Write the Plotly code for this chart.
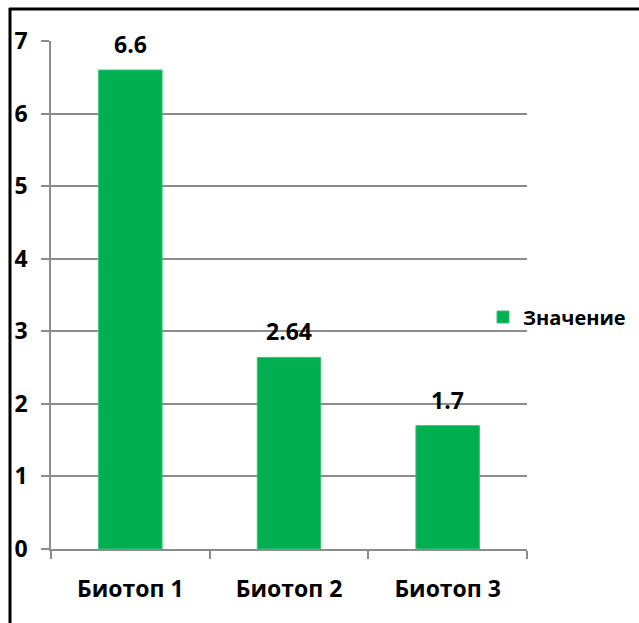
import plotly.graph_objects as go

categories = ["Биотоп 1", "Биотоп 2", "Биотоп 3"]
values = [6.6, 2.64, 1.7]
value_labels = ["6.6", "2.64", "1.7"]
series_name = "Значение"
y_ticks = [0, 1, 2, 3, 4, 5, 6, 7]

W, H = 639, 623
L, R, T, B = 51, 112, 41, 74
pw, ph = W - L - R, H - T - B

FONT = "Open Sans"
GREEN = "#00B050"
GRID = "#8C8C8C"
FS = 23

fig = go.Figure()
fig.add_trace(go.Bar(
    x=categories, y=values, name=series_name,
    marker=dict(color=GREEN, line=dict(color="#3CC07A", width=1)),
    width=0.4, showlegend=True,
))

for c, v, t in zip(categories, values, value_labels):
    fig.add_annotation(x=c, y=v, text=f"<b>{t}</b>", showarrow=False,
                       yanchor="middle", yshift=26,
                       font=dict(family=FONT, size=FS, color="black"))

def px_x(p):
    return (p - L) / pw

def px_y(p):
    return (H - B - p) / ph

# frame lines on the top and left edges
fig.add_shape(type="line", xref="paper", yref="paper",
              x0=px_x(9), x1=px_x(W + 2), y0=px_y(9), y1=px_y(9),
              line=dict(color="black", width=3))
fig.add_shape(type="line", xref="paper", yref="paper",
              x0=px_x(10), x1=px_x(10), y0=px_y(8), y1=px_y(H + 2),
              line=dict(color="black", width=3))

fig.update_layout(
    width=W, height=H,
    margin=dict(l=L, r=R, t=T, b=B, autoexpand=False),
    paper_bgcolor="white", plot_bgcolor="white",
    font=dict(family=FONT, size=FS, color="black"),
    bargap=0.6,
    legend=dict(x=px_x(483), y=px_y(317), xanchor="left", yanchor="middle",
                font=dict(family=FONT, size=20, color="black", weight="bold"),
                itemwidth=30, bgcolor="rgba(0,0,0,0)"),
    xaxis=dict(
        type="category", showgrid=False, showline=True, linecolor=GRID,
        linewidth=1.5, ticks="outside", tickson="boundaries", ticklen=8,
        tickcolor=GRID, tickwidth=1.5,
        tickfont=dict(family=FONT, size=FS, color="black", weight="bold"),
        ticklabelstandoff=19,
    ),
    yaxis=dict(
        range=[0, 7], tickvals=y_ticks, showgrid=True, gridcolor=GRID,
        gridwidth=1.5, showline=True, linecolor=GRID, linewidth=1.5,
        ticks="outside", ticklen=8, tickcolor=GRID, tickwidth=1.5,
        zeroline=False,
        tickfont=dict(family=FONT, size=FS, color="black", weight="bold"),
        ticklabelstandoff=9,
    ),
)

fig.write_html("out.html")
